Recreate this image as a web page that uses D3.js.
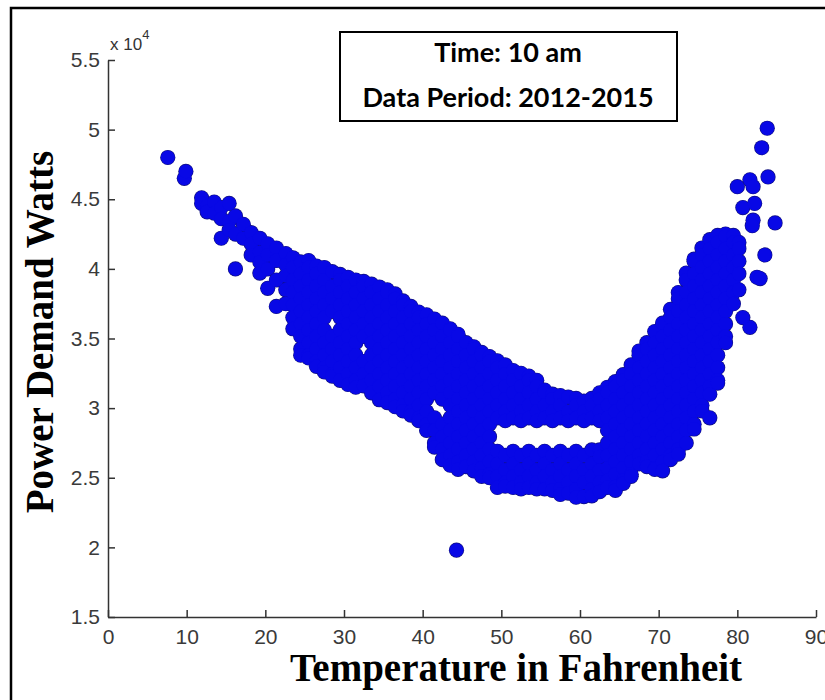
<!DOCTYPE html>
<html>
<head>
<meta charset="utf-8">
<script src="https://cdn.jsdelivr.net/npm/d3@7"></script>
<style>
  body { margin: 0; background: #fff; }
  svg { display: block; }
</style>
</head>
<body>
<script>
// chart size and plot box (pixels)
var width = 825, height = 700;
var plotLeft = 108, plotRight = 816, plotTop = 60, plotBottom = 617;

// tick values
var xTicks = [0, 10, 20, 30, 40, 50, 60, 70, 80, 90];
var yTicks = [15000, 20000, 25000, 30000, 35000, 40000, 45000, 50000, 55000];

// labels
var xLabel = 'Temperature in Fahrenheit';
var yLabel = 'Power Demand Watts';
var noteLines = ['Time: 10 am', 'Data Period: 2012-2015'];

// scattered single readings [temperature F, demand W]
var singles = [
  [7.6, 48000], [9.7, 46500], [9.9, 47000], [44.3, 19800],
  [81.6, 35800], [80.7, 36500], [80.0, 45900], [80.7, 44400], [82.0, 43500], [82.5, 39400],
  [83.8, 50100], [83.1, 48700], [81.6, 46400], [83.9, 46600], [82.0, 45900],
  [82.2, 44700], [81.9, 43100], [84.8, 43300], [83.5, 41000], [82.9, 39300]
];

// readings grouped by temperature: [temperature F, [demand W, ...]]
var columns = [
  [11.9, [45100, 44700]],
  [12.6, [44500, 44100]],
  [13.5, [44800, 44000]],
  [14.4, [44400, 43600, 42200]],
  [15.4, [44700, 43400, 42800]],
  [16.2, [43800, 42500, 40000]],
  [17.2, [43200, 42200]],
  [18.2, [42600, 41800, 41000]],
  [19.3, [42200, 41200, 40500, 39700]],
  [20.3, [41800, 41000, 40000, 38600]],
  [21.4, [41500, 40600, 39200, 37300]],
  [22.6, [41100, 40300, 39500, 38500, 37500]],
  [23.5, [40800, 40100, 39200, 38300, 37400, 36500, 35700]],
  [24.5, [40500, 39650, 38750, 37850, 36950, 36050, 35150, 34250, 33800]],
  [25.5, [40600, 40100, 39200, 38300, 37400, 36500, 35600, 34700, 33800, 33600]],
  [26.5, [40200, 39650, 38750, 37850, 36950, 36050, 35150, 34250, 33350, 33000]],
  [27.5, [40100, 39200, 38300, 37400, 36500, 35600, 34700, 33800, 32900, 32600]],
  [28.5, [39800, 38750, 37850, 36950, 35150, 34250, 33350, 32450, 32300]],
  [29.5, [39600, 39200, 38300, 37400, 36500, 35600, 34700, 33800, 32900, 32000]],
  [30.5, [39400, 38750, 37850, 36950, 36050, 35150, 34250, 33350, 32450, 31700]],
  [31.5, [39200, 38300, 37400, 36500, 35600, 34700, 33800, 32900, 32000, 31500]],
  [32.5, [39100, 38750, 37850, 36950, 36050, 35150, 33350, 32450, 31600]],
  [33.5, [38900, 38300, 37400, 36500, 35600, 34700, 33800, 32900, 32000, 31100]],
  [34.5, [38700, 37850, 36950, 36050, 35150, 34250, 33350, 32450, 31550, 30600]],
  [35.5, [38500, 38300, 37400, 36500, 35600, 34700, 33800, 32900, 32000, 31100, 30400]],
  [36.5, [38200, 37850, 36950, 36050, 35150, 34250, 33350, 32450, 31550, 30650, 30100]],
  [37.5, [37700, 37400, 36500, 35600, 34700, 33800, 32900, 32000, 31100, 30200, 29800]],
  [38.5, [37300, 36950, 36050, 35150, 34250, 33350, 32450, 31550, 30650, 29750, 29500]],
  [39.5, [36900, 36500, 35600, 34700, 33800, 32900, 32000, 31100, 30200, 29300, 29100]],
  [40.5, [36700, 36050, 35150, 34250, 33350, 32450, 31550, 30650, 29750, 28850, 28400]],
  [41.5, [36400, 35600, 34700, 33800, 32900, 32000, 31100, 29300, 28400, 27500, 27200]],
  [42.5, [36100, 35150, 34250, 33350, 32450, 31550, 30650, 28850, 27950, 27050, 26300]],
  [43.5, [35700, 35600, 34700, 33800, 32900, 32000, 31100, 30200, 29300, 28400, 27500, 26600, 25900]],
  [44.5, [35300, 35150, 34250, 33350, 32450, 31550, 30650, 29750, 28850, 27950, 27050, 26150, 25600]],
  [45.5, [34700, 33800, 32900, 32000, 31100, 30200, 29300, 28400, 27500, 26600, 25800]],
  [46.5, [34400, 34250, 33350, 32450, 31550, 30650, 29750, 28850, 27950, 27050, 26150, 25500]],
  [47.5, [34000, 33800, 32900, 32000, 31100, 30200, 29300, 28400, 27500, 26600, 25700, 25100]],
  [48.5, [33700, 33350, 32450, 31550, 30650, 29750, 28850, 27950, 27050, 26150, 25250, 25000]],
  [49.5, [33400, 32900, 32000, 31100, 30200, 29300, 26900, 26000, 25100, 24300]],
  [50.5, [33100, 32450, 31550, 30650, 29750, 29100, 26600, 25550, 24650, 24400]],
  [51.5, [32700, 32000, 31100, 30200, 29300, 26900, 26000, 25100, 24300]],
  [52.5, [32500, 31550, 30650, 29750, 29100, 26600, 25550, 24650, 24200]],
  [53.5, [32300, 32000, 31100, 30200, 29300, 26900, 26000, 25100, 24300]],
  [54.5, [32000, 31550, 30650, 29750, 29100, 26600, 25550, 24650, 24200]],
  [55.5, [31300, 31100, 30200, 29300, 26900, 26000, 25100, 24200]],
  [56.5, [31000, 30650, 29750, 29100, 26600, 25550, 24650, 24100]],
  [57.5, [30900, 30200, 29300, 26900, 26000, 25100, 24200, 23800]],
  [58.5, [30800, 29750, 29100, 26600, 25550, 24650, 23900]],
  [59.5, [30700, 30200, 29300, 26900, 26000, 25100, 24200, 23600]],
  [60.5, [30500, 29750, 29100, 26600, 25550, 24650, 23650]],
  [61.5, [30700, 30200, 29300, 27000, 26000, 25100, 24200, 23700]],
  [62.5, [31100, 30650, 29750, 29100, 27000, 26500, 25550, 24650, 24000]],
  [63.5, [31500, 31100, 30200, 29300, 28400, 27500, 26600, 25700, 24800, 24300]],
  [64.5, [31900, 31550, 30650, 29750, 28850, 27950, 27050, 26150, 25250, 24350, 24100]],
  [65.5, [32400, 32000, 31100, 30200, 29300, 28400, 27500, 26600, 25700, 24800, 24600]],
  [66.5, [33100, 32450, 31550, 30650, 29750, 28850, 27950, 27050, 26150, 25250, 25100]],
  [67.5, [34100, 33800, 32900, 32000, 31100, 30200, 29300, 28400, 27500, 26600, 26000]],
  [68.5, [34700, 34250, 33350, 32450, 31550, 30650, 29750, 28850, 27950, 27050, 26150, 25800]],
  [69.5, [35500, 34700, 33800, 32900, 32000, 31100, 30200, 29300, 28400, 27500, 26600, 25700, 25600]],
  [70.5, [36100, 35150, 34250, 33350, 32450, 31550, 30650, 29750, 28850, 27950, 27050, 26150, 25500]],
  [71.5, [37100, 36500, 35600, 34700, 33800, 32900, 32000, 31100, 30200, 29300, 28400, 27500, 26600, 26300]],
  [72.5, [38300, 37850, 36950, 36050, 35150, 34250, 33350, 32450, 31550, 30650, 29750, 28850, 27950, 27050, 26700]],
  [73.5, [39700, 39200, 38300, 37400, 36500, 35600, 34700, 33800, 32900, 32000, 31100, 30200, 29300, 28400, 27500]],
  [74.5, [40700, 40550, 39650, 38750, 37850, 36950, 36050, 35150, 34250, 33350, 32450, 31550, 30650, 29750, 28850, 28500]],
  [75.5, [41500, 41000, 40100, 39200, 38300, 37400, 36500, 35600, 34700, 33800, 32900, 32000, 31100, 30200, 29800]],
  [76.5, [42100, 41450, 40550, 39650, 38750, 37850, 36950, 36050, 35150, 34250, 33350, 32450, 31550, 31000, 29300]],
  [77.5, [42400, 41900, 41000, 40100, 39200, 38300, 37400, 36500, 35600, 34700, 33800, 32900, 32000, 31800]],
  [78.5, [42500, 42350, 41450, 40550, 39650, 38750, 37850, 36950, 36050, 35150, 34700]],
  [79.5, [42400, 41900, 41000, 40100, 39200, 38300, 37500]],
  [80.2, [41900, 41450, 40550, 39650, 38500]]
];

// flat list of points for the scatter
var readings = singles.concat(columns.flatMap(c => c[1].map(w => [c[0], w])));

var svg = d3.select('body').append('svg').attr('width', width).attr('height', height);
svg.append('rect').attr('width', width).attr('height', height).attr('fill', '#fff');

// outer frame (runs off the right and bottom of the picture)
svg.append('rect').attr('x', 11).attr('y', 8).attr('width', 840).attr('height', 720)
  .attr('fill', 'none').attr('stroke', '#000').attr('stroke-width', 2.5);

var x = d3.scaleLinear().domain([0, 90]).range([plotLeft, plotRight]);
var y = d3.scaleLinear().domain([15000, 55000]).range([plotBottom, plotTop]);

// points: dark rims first, blue faces on top so only the outer edge of the cloud shows a rim
var pts = svg.append('g');
pts.append('g').selectAll('circle').data(readings).enter()
  .append('circle')
  .attr('cx', d => x(d[0]))
  .attr('cy', d => y(d[1]))
  .attr('r', 7.6)
  .attr('fill', '#12127e');
pts.append('g').selectAll('circle').data(readings).enter()
  .append('circle')
  .attr('cx', d => x(d[0]))
  .attr('cy', d => y(d[1]))
  .attr('r', 7.0)
  .attr('fill', '#0808e6');

// axes, matlab style ticks pointing inwards
var xAxis = svg.append('g').attr('transform', 'translate(0,' + plotBottom + ')')
  .call(d3.axisBottom(x).tickValues(xTicks).tickSizeInner(-7).tickSizeOuter(0).tickPadding(12));
var yAxis = svg.append('g').attr('transform', 'translate(' + plotLeft + ',0)')
  .call(d3.axisLeft(y).tickValues(yTicks).tickSizeInner(-7).tickSizeOuter(0).tickPadding(8)
    .tickFormat(d => String(d / 10000)));

[xAxis, yAxis].forEach(a => {
  a.select('.domain').attr('stroke', '#333').attr('stroke-width', 1.5);
  a.selectAll('.tick line').attr('stroke', '#333').attr('stroke-width', 1.5);
  a.selectAll('.tick text').attr('fill', '#3a3a3a')
    .style('font-family', '"Liberation Sans", Arial, sans-serif').style('font-size', '21px');
});

// exponent above the y axis
var expo = svg.append('text').attr('x', 110).attr('y', 50)
  .style('font-family', '"Liberation Sans", Arial, sans-serif').style('font-size', '17px').attr('fill', '#333');
expo.append('tspan').text('x 10');
expo.append('tspan').attr('dy', -11).style('font-size', '13px').text('4');

// axis titles
svg.append('text').attr('x', 516).attr('y', 681).attr('text-anchor', 'middle')
  .style('font-family', '"Liberation Serif", "Times New Roman", serif').style('font-weight', 'bold')
  .style('font-size', '39px').text(xLabel);

svg.append('text').attr('transform', 'translate(53,332) rotate(-90)').attr('text-anchor', 'middle')
  .style('font-family', '"Liberation Serif", "Times New Roman", serif').style('font-weight', 'bold')
  .style('font-size', '39px').text(yLabel);

// note box
svg.append('rect').attr('x', 340).attr('y', 32).attr('width', 337).attr('height', 89)
  .attr('fill', '#fff').attr('stroke', '#000').attr('stroke-width', 2);
svg.selectAll('.note').data(noteLines).enter().append('text').attr('class', 'note')
  .attr('x', 508).attr('y', (d, i) => 62 + i * 45).attr('text-anchor', 'middle')
  .style('font-family', 'Lato, "Open Sans", sans-serif').style('font-weight', 'bold')
  .style('font-size', '27px').text(d => d);
</script>
</body>
</html>
